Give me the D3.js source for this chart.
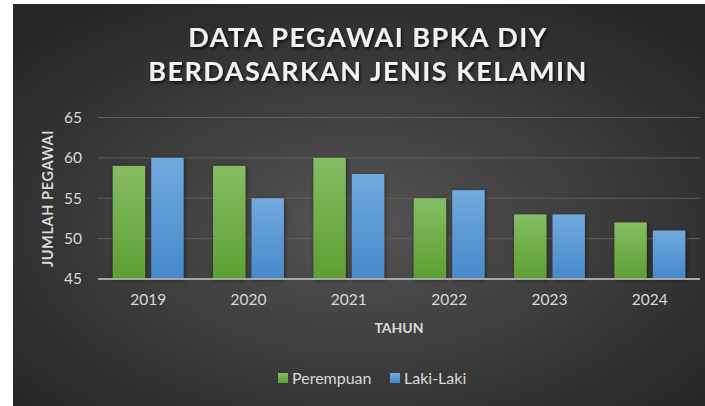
<!DOCTYPE html>
<html>

<head>
  <meta charset="utf-8" />
  <title>Data Pegawai BPKA DIY</title>
  <style>
    body {
      margin: 0;
      background: #fff;
    }

    #chartArea {
      width: 705px;
      height: 406px;
    }

    text {
      font-family: Lato, "Open Sans", sans-serif;
    }
  </style>
  <script src="https://cdnjs.cloudflare.com/ajax/libs/d3/7.8.5/d3.min.js"></script>
</head>

<body>
  <div id="chartArea"></div>
  <script>
    var years = ['2019', '2020', '2021', '2022', '2023', '2024'];
    var perempuan = [59, 59, 60, 55, 53, 52];
    var lakiLaki = [60, 55, 58, 56, 53, 51];
    var seriesNames = ['Perempuan', 'Laki-Laki'];
    var yTicks = [45, 50, 55, 60, 65];
    var titleLines = ['DATA PEGAWAI BPKA DIY', 'BERDASARKAN JENIS KELAMIN'];

    var W = 705, H = 406;
    var margin = { top: 117.5, right: 5, bottom: 127, left: 98 };
    var w = W - margin.left - margin.right,
      h = H - margin.top - margin.bottom;

    var svg = d3.select('#chartArea')
      .append('svg')
      .attr('width', W)
      .attr('height', H);

    var defs = svg.append('defs');

    var bg = defs.append('radialGradient')
      .attr('id', 'bg')
      .attr('cx', '50%').attr('cy', '55%').attr('r', '65%');
    bg.append('stop').attr('offset', '0%').attr('stop-color', '#545454');
    bg.append('stop').attr('offset', '100%').attr('stop-color', '#272727');

    var gGreen = defs.append('linearGradient')
      .attr('id', 'gGreen').attr('x1', 0).attr('y1', 0).attr('x2', 0).attr('y2', 1);
    gGreen.append('stop').attr('offset', '0%').attr('stop-color', '#86bd63');
    gGreen.append('stop').attr('offset', '100%').attr('stop-color', '#5e9f33');

    var gBlue = defs.append('linearGradient')
      .attr('id', 'gBlue').attr('x1', 0).attr('y1', 0).attr('x2', 0).attr('y2', 1);
    gBlue.append('stop').attr('offset', '0%').attr('stop-color', '#72a9de');
    gBlue.append('stop').attr('offset', '100%').attr('stop-color', '#4689cb');

    var shadow = defs.append('filter').attr('id', 'shadow')
      .attr('x', '-30%').attr('y', '-30%').attr('width', '160%').attr('height', '160%');
    shadow.append('feDropShadow')
      .attr('dx', 1).attr('dy', 1).attr('stdDeviation', 2)
      .attr('flood-color', '#000').attr('flood-opacity', 0.5);

    var textShadow = defs.append('filter').attr('id', 'textShadow')
      .attr('x', '-10%').attr('y', '-30%').attr('width', '120%').attr('height', '160%');
    textShadow.append('feDropShadow')
      .attr('dx', 1.5).attr('dy', 2).attr('stdDeviation', 1.5)
      .attr('flood-color', '#000').attr('flood-opacity', 0.7);

    svg.append('rect')
      .attr('x', 13).attr('y', 4)
      .attr('width', W - 13).attr('height', H - 4)
      .attr('fill', 'url(#bg)');

    // title
    svg.append('g')
      .selectAll('text')
      .data(titleLines)
      .join('text')
      .attr('x', 368)
      .attr('y', (d, i) => 47 + i * 34)
      .attr('text-anchor', 'middle')
      .attr('fill', '#f2f2f2')
      .attr('font-size', 27)
      .attr('font-weight', 'bold')
      .attr('letter-spacing', 1.5)
      .attr('filter', 'url(#textShadow)')
      .text(d => d);

    var g = svg.append('g')
      .attr('transform', 'translate(' + margin.left + ',' + margin.top + ')');

    var x0 = d3.scaleBand()
      .domain(years)
      .range([0, w]);

    var x1 = d3.scaleBand()
      .domain(seriesNames)
      .range([x0.bandwidth() * 0.147, x0.bandwidth() * 0.853])
      .paddingInner(0.16);

    var y = d3.scaleLinear()
      .domain([45, 65])
      .range([h, 0]);

    // gridlines
    g.append('g')
      .selectAll('line')
      .data(yTicks.slice(1))
      .join('line')
      .attr('x1', 0).attr('x2', w)
      .attr('y1', d => y(d)).attr('y2', d => y(d))
      .attr('stroke', '#5e5e5e')
      .attr('stroke-width', 1);

    // y axis labels
    var yAxis = d3.axisLeft(y).tickValues(yTicks).tickSize(0).tickPadding(16);
    g.append('g')
      .call(yAxis)
      .call(a => a.select('.domain').remove())
      .selectAll('text')
      .attr('fill', '#d9d9d9')
      .attr('font-size', 15.5)
      .style('font-family', 'Lato, "Open Sans", sans-serif');

    var rows = years.map((yr, i) => ({ year: yr, values: [perempuan[i], lakiLaki[i]] }));
    var fills = ['url(#gGreen)', 'url(#gBlue)'];

    g.append('g')
      .selectAll('g')
      .data(rows)
      .join('g')
      .attr('transform', d => 'translate(' + x0(d.year) + ',0)')
      .selectAll('rect')
      .data(d => d.values.map((v, i) => ({ name: seriesNames[i], value: v, i: i })))
      .join('rect')
      .attr('x', d => x1(d.name))
      .attr('width', x1.bandwidth())
      .attr('y', d => y(d.value))
      .attr('height', d => h - y(d.value))
      .attr('fill', d => fills[d.i])
      .attr('filter', 'url(#shadow)');

    // baseline
    g.append('line')
      .attr('x1', 0).attr('x2', w)
      .attr('y1', h).attr('y2', h)
      .attr('stroke', '#a6a6a6')
      .attr('stroke-width', 2);

    // x axis labels
    var xAxis = d3.axisBottom(x0).tickSize(0).tickPadding(15);
    g.append('g')
      .attr('transform', 'translate(0,' + h + ')')
      .call(xAxis)
      .call(a => a.select('.domain').remove())
      .selectAll('text')
      .attr('fill', '#d9d9d9')
      .attr('font-size', 15.5)
      .style('font-family', 'Lato, "Open Sans", sans-serif');

    // axis titles
    svg.append('text')
      .attr('x', margin.left + w / 2)
      .attr('y', 333)
      .attr('text-anchor', 'middle')
      .attr('fill', '#d9d9d9')
      .attr('font-size', 14)
      .attr('font-weight', 'bold')
      .text('TAHUN');

    svg.append('text')
      .attr('transform', 'translate(53,198.5) rotate(-90)')
      .attr('text-anchor', 'middle')
      .attr('fill', '#d9d9d9')
      .attr('font-size', 14.5)
      .attr('font-weight', 'bold')
      .attr('letter-spacing', 0.6)
      .text('JUMLAH PEGAWAI');

    // legend
    var legendX = [278, 390];
    var legend = svg.append('g')
      .selectAll('g')
      .data(seriesNames)
      .join('g')
      .attr('transform', (d, i) => 'translate(' + legendX[i] + ',373)');
    legend.append('rect')
      .attr('width', 10).attr('height', 10)
      .attr('fill', (d, i) => fills[i]);
    legend.append('text')
      .attr('x', 14).attr('y', 10.5)
      .attr('fill', '#d9d9d9')
      .attr('font-size', 16)
      .text(d => d);
  </script>
</body>

</html>
